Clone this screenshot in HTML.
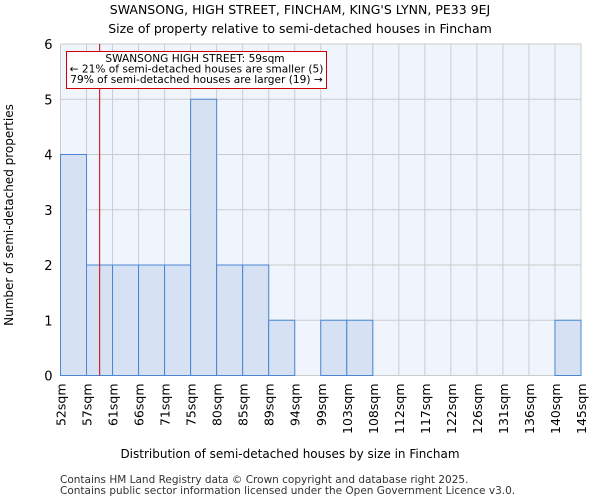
<!DOCTYPE html>
<html><head><meta charset="utf-8"><style>
body{margin:0;background:#fff;font-family:"DejaVu Sans","Liberation Sans",sans-serif;}
</style></head><body>
<svg id="c" width="600" height="500" xmlns="http://www.w3.org/2000/svg" font-family="DejaVu Sans, Liberation Sans, sans-serif">
<text x="300" y="14" text-anchor="middle" font-size="12.5">SWANSONG, HIGH STREET, FINCHAM, KING'S LYNN, PE33 9EJ</text>
<text x="300" y="33" text-anchor="middle" font-size="12.5">Size of property relative to semi-detached houses in Fincham</text>
<rect x="60.5" y="44" width="520.5" height="331.5" fill="#f0f4fc"/>
<g id="grid"></g><g id="bars"></g><g id="axes"></g>
<text transform="translate(13,215) rotate(-90)" text-anchor="middle" font-size="12">Number of semi-detached properties</text>
<text x="290" y="458" text-anchor="middle" font-size="12">Distribution of semi-detached houses by size in Fincham</text>
<text x="60" y="483" font-size="10.5" fill="#333">Contains HM Land Registry data © Crown copyright and database right 2025.</text>
<text x="60" y="494" font-size="10.5" fill="#333">Contains public sector information licensed under the Open Government Licence v3.0.</text>
</svg>
<script>
const categories=["52sqm","57sqm","61sqm","66sqm","71sqm","75sqm","80sqm","85sqm","89sqm","94sqm","99sqm","103sqm","108sqm","112sqm","117sqm","122sqm","126sqm","131sqm","136sqm","140sqm","145sqm"];
const counts=[4,2,2,2,2,5,2,2,1,0,1,1,0,0,0,0,0,0,0,1];
const yTicks=[0,1,2,3,4,5,6];
const markerValue=59;
const NS="http://www.w3.org/2000/svg";
const x0=60.5,x1=581,y0=375.5,y1=44,yMax=6;
const bw=(x1-x0)/counts.length;
const xi=i=>x0+i*bw;
const y=v=>y0-(y0-y1)*v/yMax;
const binStart=52,binEnd=145;
const xv=v=>x0+(v-binStart)/((binEnd-binStart)/counts.length)*bw;
function mk(t,a,p){const e=document.createElementNS(NS,t);for(const k in a)e.setAttribute(k,a[k]);p.appendChild(e);return e;}
const grid=document.getElementById('grid'),bars=document.getElementById('bars'),axes=document.getElementById('axes');
yTicks.forEach(v=>{
 const l=mk('line',{x1:x0,x2:x1,y1:y(v),y2:y(v),stroke:'#ccc','stroke-width':1},grid);
 
 
 const t=mk('text',{x:x0-8,y:y(v)+5,'text-anchor':'end','font-size':13},axes);t.textContent=v;
 
 
});
categories.forEach((c,i)=>{
 const l=mk('line',{x1:xi(i),x2:xi(i),y1:y0,y2:y1,stroke:'#ccc','stroke-width':1},grid);
 
 
 const t=mk('text',{transform:`translate(${xi(i)+5},${y0+8}) rotate(-90)`,'text-anchor':'end','font-size':12.5},axes);t.textContent=c;
 
 
});
counts.forEach((v,i)=>{
 if(v<=0)return;
 const r=mk('rect',{x:xi(i),y:y(v),width:bw,height:y0-y(v),fill:'#d6e2f3',stroke:'#4a86d4','stroke-width':1},bars);
 
 
});
const mx=xv(markerValue);
const ml=mk('line',{x1:mx,x2:mx,y1:y0,y2:y1,stroke:'#c00','stroke-width':1},axes);


const box=mk('rect',{x:66.5,y:51.5,width:260,height:37,fill:'#fff',stroke:'#c00','stroke-width':1},axes);


const lines=["SWANSONG HIGH STREET: 59sqm","← 21% of semi-detached houses are smaller (5)","79% of semi-detached houses are larger (19) →"];
lines.forEach((s,k)=>{const t=mk('text',{x:k==0?195:196.5,y:62+k*10.5,'text-anchor':'middle','font-size':10.6},axes);t.textContent=s;
 
 });
</script>
</body></html>
